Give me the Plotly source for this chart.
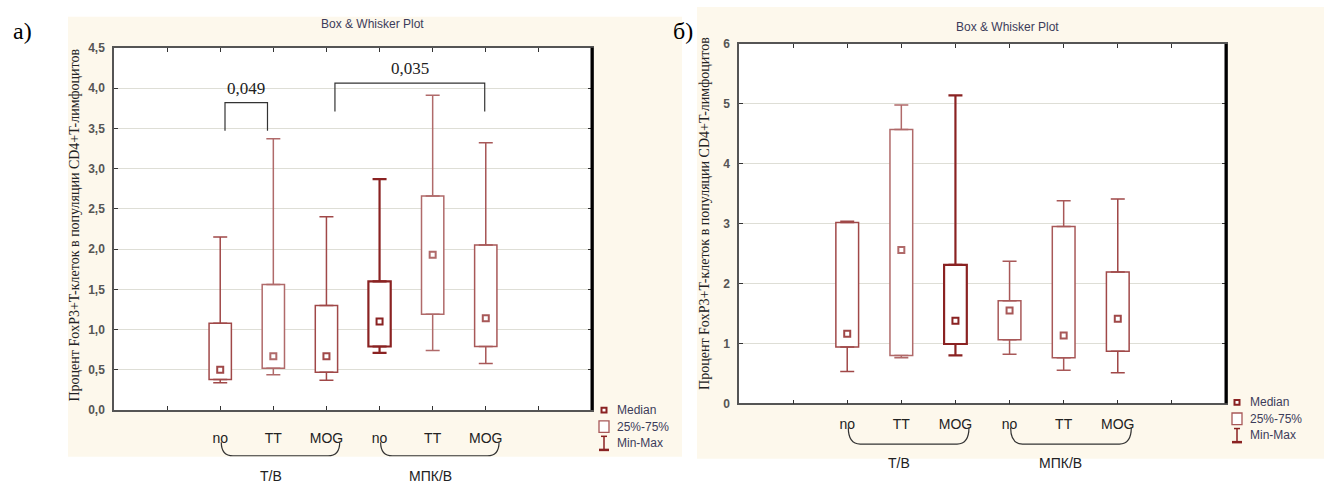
import plotly.graph_objects as go

# ---------------- data ----------------
categories = ['no', 'TT', 'MOG', 'no', 'TT', 'MOG']
positions = [2, 3, 4, 5, 6, 7]
group_names = ['Т/В', 'МПК/В']
group_spans = [(2, 4), (5, 7)]

# panel a)
a_min = [0.34, 0.44, 0.37, 0.71, 0.74, 0.58]
a_q1 = [0.38, 0.52, 0.47, 0.79, 1.19, 0.79]
a_med = [0.50, 0.67, 0.67, 1.10, 1.93, 1.14]
a_q3 = [1.08, 1.56, 1.30, 1.60, 2.66, 2.05]
a_max = [2.15, 3.37, 2.40, 2.87, 3.91, 3.32]

# panel б)
b_min = [0.53, 0.76, 0.80, 0.82, 0.55, 0.51]
b_q1 = [0.94, 0.80, 0.99, 1.06, 0.76, 0.87]
b_med = [1.16, 2.56, 1.38, 1.55, 1.13, 1.41]
b_q3 = [3.02, 4.57, 2.31, 1.71, 2.95, 2.19]
b_max = [3.04, 4.98, 5.14, 2.37, 3.38, 3.41]

# significance brackets on panel a): (x0, x1, y_bottom, y_top, label)
a_brackets = [(2.09, 2.89, 3.47, 3.82, '0,049'),
              (4.16, 6.98, 3.71, 4.06, '0,035')]

y_title = 'Процент FoxP3+T-клеток в популяции CD4+T-лимфоцитов'
plot_title = 'Box & Whisker Plot'
legend_labels = ['Median', '25%-75%', 'Min-Max']

# ---------------- style ----------------
W, H = 1324, 488
CREAM = '#fdf8ec'
a_colors = ['#a04848', '#b06a6a', '#a04848', '#8a2222', '#b06a6a', '#a85858']
b_colors = ['#a04848', '#b06a6a', '#8a2222', '#a85858', '#a85858', '#a04848']
a_lw = [1.5, 1.5, 1.5, 2.2, 1.5, 1.5]
b_lw = [1.5, 1.5, 2.2, 1.5, 1.5, 1.5]
TXT = '#3c3c5a'
SANS = 'Liberation Sans, Arial, sans-serif'
SERIF = 'Liberation Serif, Times New Roman, serif'


def px(x):
    return x / W


def py(y):
    return 1 - y / H


panels = [
    dict(xa='x', ya='y', dom_x=[px(114), px(592)], dom_y=[py(415), py(42)],
         yr=[0, 4.5], dtick=0.5, fmt='.1f', xstand=14,
         mn=a_min, q1=a_q1, med=a_med, q3=a_q3, mx=a_max,
         colors=a_colors, lw=a_lw,
         cream=(68, 10, 682, 463), ytitle_xy=(75, 225), title_xy=(372, 18),
         tag='а)', tag_xy=(22, 25),
         brace_y=(448, 462), group_y=483,
         legend_xy=(604, 415)),
    dict(xa='x2', ya='y2', dom_x=[px(739), px(1226)], dom_y=[py(408), py(38)],
         yr=[0, 6], dtick=1, fmt='d', xstand=7,
         mn=b_min, q1=b_q1, med=b_med, q3=b_q3, mx=b_max,
         colors=b_colors, lw=b_lw,
         cream=(697, 0, 1324, 465), ytitle_xy=(705, 213), title_xy=(1007, 21),
         tag='б)', tag_xy=(683, 25),
         brace_y=(433, 450), group_y=469,
         legend_xy=(1237, 407)),
]

fig = go.Figure()
shapes = []
annotations = []


def ann(**kw):
    kw.setdefault('xanchor', 'center')
    kw.setdefault('yanchor', 'middle')
    kw.setdefault('showarrow', False)
    annotations.append(kw)


for p in panels:
    xa, ya = p['xa'], p['ya']
    # boxes
    fig.add_trace(go.Bar(
        x=positions, base=p['q1'],
        y=[q3 - q1 for q1, q3 in zip(p['q1'], p['q3'])],
        width=0.42, xaxis=xa, yaxis=ya,
        marker=dict(color='white', line=dict(color=p['colors'], width=p['lw'])),
        showlegend=False, hoverinfo='skip'))
    # whiskers
    for i, xpos in enumerate(positions):
        c = p['colors'][i]
        fig.add_trace(go.Scatter(
            x=[xpos], y=[p['q3'][i]], mode='markers', xaxis=xa, yaxis=ya,
            marker=dict(size=1, color='rgba(0,0,0,0)'),
            error_y=dict(type='data', symmetric=False,
                         array=[p['mx'][i] - p['q3'][i]], arrayminus=[0],
                         width=7, thickness=p['lw'][i], color=c),
            showlegend=False, hoverinfo='skip'))
        fig.add_trace(go.Scatter(
            x=[xpos], y=[p['q1'][i]], mode='markers', xaxis=xa, yaxis=ya,
            marker=dict(size=1, color='rgba(0,0,0,0)'),
            error_y=dict(type='data', symmetric=False,
                         array=[0], arrayminus=[p['q1'][i] - p['mn'][i]],
                         width=7, thickness=p['lw'][i], color=c),
            showlegend=False, hoverinfo='skip'))
    # medians
    fig.add_trace(go.Scatter(
        x=positions, y=p['med'], mode='markers', xaxis=xa, yaxis=ya,
        marker=dict(symbol='square-open', size=6, color=p['colors'],
                    line=dict(width=2, color=p['colors'])),
        showlegend=False, hoverinfo='skip'))

    # backgrounds
    cx0, cy0, cx1, cy1 = p['cream']
    shapes.append(dict(type='rect', xref='paper', yref='paper',
                       x0=px(cx0), x1=px(cx1), y0=py(cy1), y1=py(cy0),
                       fillcolor=CREAM, line=dict(width=0), layer='below'))
    shapes.append(dict(type='rect', xref=xa + ' domain', yref=ya + ' domain',
                       x0=0, x1=1, y0=0, y1=1,
                       fillcolor='white', line=dict(width=0), layer='below'))
    # thick right frame
    shapes.append(dict(type='line', xref=xa + ' domain', yref=ya + ' domain',
                       x0=1, x1=1, y0=0, y1=1, line=dict(color='black', width=3)))

    # braces and group labels
    bt, bb = p['brace_y']
    for (g0, g1), gname in zip(group_spans, group_names):
        x0, x1 = g0 + 0.02, g1 + 0.25
        d = 0.22
        path = (f'M {x0},{py(bt)} Q {x0},{py(bb)} {x0 + d},{py(bb)} '
                f'L {x1 - d},{py(bb)} Q {x1},{py(bb)} {x1},{py(bt)}')
        shapes.append(dict(type='path', xref=xa, yref='paper', path=path,
                           line=dict(color='#333333', width=1.2)))
        ann(xref=xa, yref='paper', x=(g0 + g1) / 2 - 0.05,
            y=py(p['group_y']), text=gname,
            font=dict(family=SANS, size=14, color='#222222'))

    # y title
    tx, ty = p['ytitle_xy']
    ann(xref='paper', yref='paper', x=px(tx), y=py(ty),
        text=y_title, textangle=-90,
        font=dict(family=SERIF, size=14, color='#222222'))
    # plot title
    tx, ty = p['title_xy']
    ann(xref='paper', yref='paper', x=px(tx), y=py(ty), text=plot_title,
        font=dict(family=SANS, size=12, color=TXT))
    # panel tag
    tx, ty = p['tag_xy']
    ann(xref='paper', yref='paper', x=px(tx), y=py(ty), text=p['tag'],
        font=dict(family=SERIF, size=24, color='black'))

    # legend (layout element)
    lx, ly = p['legend_xy']
    lc = '#8a2222'
    shapes.append(dict(type='rect', xref='paper', yref='paper',
                       x0=px(lx - 2.5), x1=px(lx + 2.5), y0=py(ly + 2.5), y1=py(ly - 2.5),
                       line=dict(color=lc, width=2), fillcolor='white'))
    shapes.append(dict(type='rect', xref='paper', yref='paper',
                       x0=px(lx - 5), x1=px(lx + 5), y0=py(ly + 23), y1=py(ly + 11),
                       line=dict(color='#a85858', width=1.3), fillcolor='white'))
    shapes.append(dict(type='line', xref='paper', yref='paper',
                       x0=px(lx), x1=px(lx), y0=py(ly + 41), y1=py(ly + 27),
                       line=dict(color=lc, width=1.5)))
    shapes.append(dict(type='line', xref='paper', yref='paper',
                       x0=px(lx - 3), x1=px(lx + 3), y0=py(ly + 27), y1=py(ly + 27),
                       line=dict(color=lc, width=1.5)))
    shapes.append(dict(type='line', xref='paper', yref='paper',
                       x0=px(lx - 5), x1=px(lx + 5), y0=py(ly + 41), y1=py(ly + 41),
                       line=dict(color=lc, width=2.5)))
    for k, lab in enumerate(legend_labels):
        ann(xref='paper', yref='paper', x=px(lx + 11), y=py(ly + k * 17),
            text=lab, xanchor='left',
            font=dict(family=SANS, size=12, color=TXT))

# significance brackets
for x0, x1, yb, yt, lab in a_brackets:
    fig.add_trace(go.Scatter(x=[x0, x0, x1, x1], y=[yb, yt, yt, yb], mode='lines',
                             xaxis='x', yaxis='y', line=dict(color='#333333', width=1.2),
                             showlegend=False, hoverinfo='skip'))
    ann(xref='x', yref='y', x=(x0 + x1) / 2, y=yt,
        yanchor='bottom', yshift=3, text=lab,
        font=dict(family=SERIF, size=17, color='#222222'))


def xaxis_for(p):
    return dict(domain=p['dom_x'], range=[0, 9], tickvals=list(range(1, 9)),
                ticktext=[''] + categories + [''],
                ticks='inside', ticklen=4, tickcolor='#333333',
                showline=True, linecolor='#555555', linewidth=1.5,
                mirror='ticks', showgrid=False, zeroline=False,
                ticklabelstandoff=p['xstand'],
                tickfont=dict(family=SANS, size=14, color='#222222'))


def yaxis_for(p):
    return dict(domain=p['dom_y'], range=p['yr'], dtick=p['dtick'], tickformat=p['fmt'],
                showgrid=True, gridcolor='#deded6', gridwidth=1,
                ticks='inside', ticklen=4, tickcolor='#333333',
                showline=True, linecolor='#555555', linewidth=1.5,
                mirror='ticks', zeroline=False, ticklabelstandoff=5,
                tickfont=dict(family=SANS, size=12, color='#555555', weight='bold'))


fig.update_layout(
    width=W, height=H, autosize=False,
    margin=dict(l=0, r=0, t=0, b=0),
    paper_bgcolor='white', plot_bgcolor='white',
    separators=', ', barmode='overlay', showlegend=False,
    xaxis=dict(anchor='y', **xaxis_for(panels[0])),
    yaxis=dict(anchor='x', **yaxis_for(panels[0])),
    xaxis2=dict(anchor='y2', **xaxis_for(panels[1])),
    yaxis2=dict(anchor='x2', **yaxis_for(panels[1])),
    shapes=shapes, annotations=annotations,
)

fig.write_html('out.html', config={'displayModeBar': False},
               post_script="document.body.style.margin='0';document.body.style.overflow='hidden';")
